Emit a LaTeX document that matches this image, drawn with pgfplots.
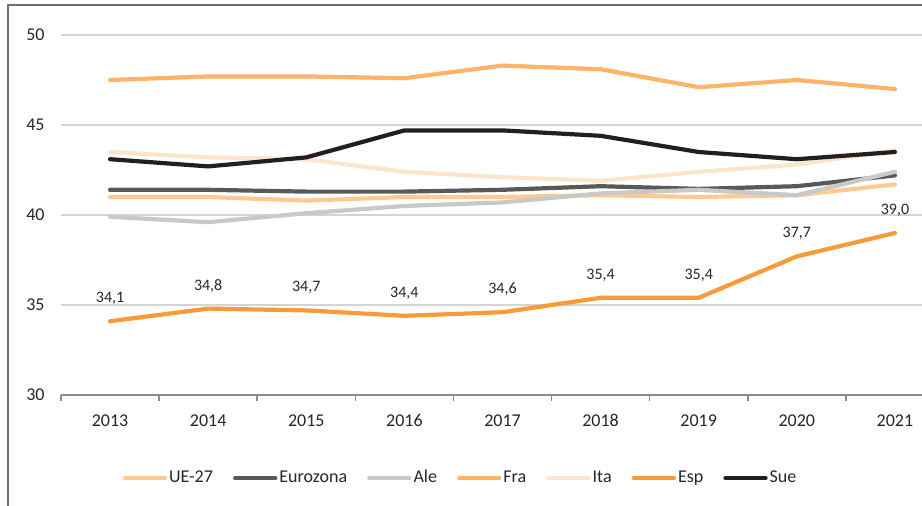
\documentclass[border=0pt]{standalone}
\usepackage{pgfplots}
\pgfplotsset{compat=1.18}
\usepackage{fontspec}
\setmainfont{Carlito}
\definecolor{cUE}{HTML}{FFC993}
\definecolor{cEZ}{HTML}{595959}
\definecolor{cAle}{HTML}{C9C9C9}
\definecolor{cFra}{HTML}{FFB46A}
\definecolor{cIta}{HTML}{FDE5CD}
\definecolor{cEsp}{HTML}{F79A3A}
\definecolor{cSue}{HTML}{231F20}
\definecolor{gridgray}{HTML}{D4D4D4}
\definecolor{axgray}{HTML}{8C8C8C}
\definecolor{framegray}{HTML}{6E6E6E}
\definecolor{txt}{HTML}{262626}
\begin{document}
\begin{tikzpicture}
\begin{axis}[
  at={(0pt,0pt)}, anchor=south west,
  scale only axis, width=441.5pt, height=180pt,
  xmin=-0.5, xmax=8.5, ymin=30, ymax=50,
  axis x line*=bottom, axis y line*=left,
  x axis line style={draw=axgray, line width=0.75pt},
  y axis line style={draw=none},
  xtick={0,1,2,3,4,5,6,7,8},
  xticklabels={2013,2014,2015,2016,2017,2018,2019,2020,2021},
  major tick length=0pt,
  minor xtick={-0.5,0.5,1.5,2.5,3.5,4.5,5.5,6.5,7.5,8.5},
  minor tick length=3pt, tick align=outside,
  minor x tick style={draw=axgray, line width=0.75pt},
  ytick={30,35,40,45,50},
  ytick style={draw=none},
  ymajorgrids, major grid style={draw=gridgray, line width=0.6pt},
  /pgf/number format/assume math mode=true,
  tick label style={font=\fontsize{9}{10}\selectfont, text=txt},
  yticklabel style={anchor=east, inner sep=0pt, xshift=-8pt},
  xticklabel style={anchor=north, inner sep=0pt, yshift=-9.5pt},
  legend style={at={(0.4525,-0.2306)}, anchor=center, draw=none, fill=none,
    font=\fontsize{9}{10}\selectfont, text=txt, nodes={inner sep=1pt},
    /tikz/every even column/.append style={column sep=9pt}},
  legend columns=7,
  legend image code/.code={\draw[#1, line width=2.2pt, line cap=round] (0pt,0pt) -- (20pt,0pt);},
  every axis plot/.append style={line width=2.1pt, line join=round, line cap=round},
]
\addplot[cUE] coordinates {(0,41.0)(1,41.0)(2,40.8)(3,41.0)(4,41.0)(5,41.1)(6,41.0)(7,41.1)(8,41.7)};
\addlegendentry{UE-27}
\addplot[cEZ] coordinates {(0,41.4)(1,41.4)(2,41.3)(3,41.3)(4,41.4)(5,41.6)(6,41.45)(7,41.6)(8,42.2)};
\addlegendentry{Eurozona}
\addplot[cAle] coordinates {(0,39.9)(1,39.6)(2,40.1)(3,40.5)(4,40.7)(5,41.2)(6,41.4)(7,41.1)(8,42.4)};
\addlegendentry{Ale}
\addplot[cFra] coordinates {(0,47.5)(1,47.7)(2,47.7)(3,47.6)(4,48.3)(5,48.1)(6,47.1)(7,47.5)(8,47.0)};
\addlegendentry{Fra}
\addplot[cIta] coordinates {(0,43.5)(1,43.2)(2,43.1)(3,42.4)(4,42.1)(5,41.9)(6,42.4)(7,42.8)(8,43.6)};
\addlegendentry{Ita}
\addplot[cEsp, nodes near coords={\pgfmathprintnumber[fixed,fixed zerofill,precision=1,use comma,assume math mode=true]{\pgfplotspointmeta}},
  point meta=y,
  every node near coord/.append style={font=\fontsize{8}{9}\selectfont, text=txt, anchor=base, inner sep=0pt, yshift=9.3pt}]
  coordinates {(0,34.1)(1,34.8)(2,34.7)(3,34.4)(4,34.6)(5,35.4)(6,35.4)(7,37.7)(8,39.0)};
\addlegendentry{Esp}
\addplot[cSue] coordinates {(0,43.1)(1,42.7)(2,43.2)(3,44.7)(4,44.7)(5,44.4)(6,43.5)(7,43.1)(8,43.5)};
\addlegendentry{Sue}
\end{axis}
\draw[framegray, line width=0.8pt] (-26.5pt,-60pt) -- (-26.5pt,195pt) -- (445pt,195pt);
\pgfresetboundingbox
\useasboundingbox (-30.5pt,-55pt) rectangle (430.5pt,197.5pt);
\end{tikzpicture}
\end{document}
